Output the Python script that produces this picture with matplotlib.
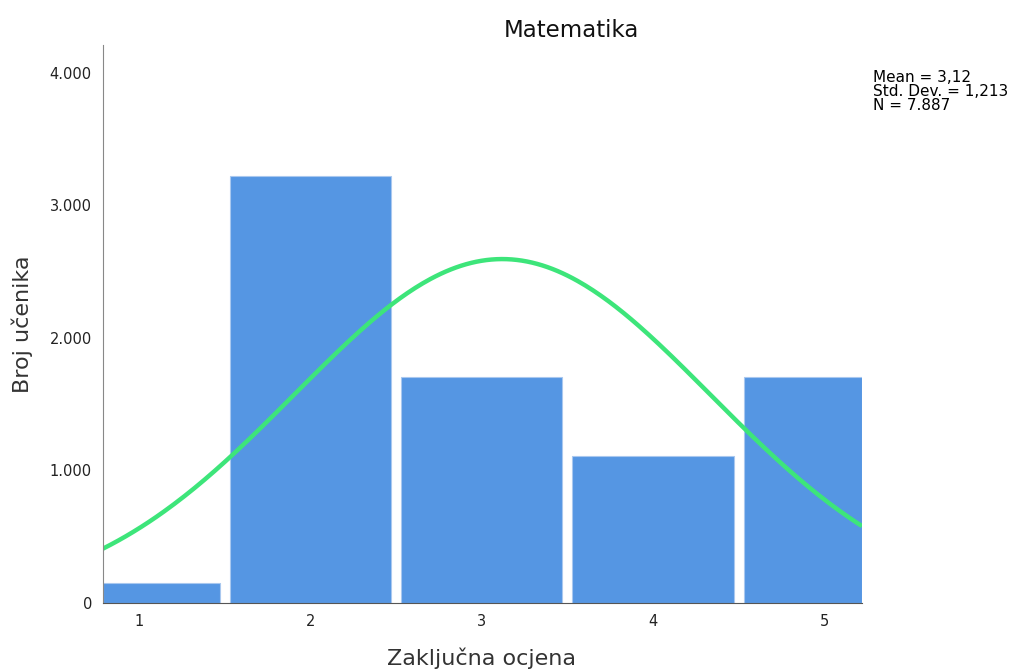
import numpy as np
import matplotlib
matplotlib.use("Agg")
import matplotlib.pyplot as plt

grades = [1, 2, 3, 4, 5]
counts = [150, 3220, 1705, 1110, 1702]
bin_left = [0.79, 1.5, 2.5, 3.5, 4.5]
bin_right = [1.5, 2.5, 3.5, 4.5, 5.22]
yticks = [0, 1000, 2000, 3000, 4000]
ytick_labels = ["0", "1.000", "2.000", "3.000", "4.000"]

mean = 3.12
sd = 1.213
n = 7887

fig = plt.figure(figsize=(10.15, 6.69), dpi=100)
ax = fig.add_axes([0.1015, 0.0987, 0.7478, 0.8343])

gap = 0.06
for l, r, c in zip(bin_left, bin_right, counts):
    lo = l if l == bin_left[0] else l + gap / 2
    hi = r if r == bin_right[-1] else r - gap / 2
    ax.bar(lo, c, width=hi - lo, align="edge", color="#5596e3",
           edgecolor="#a9c8ef", linewidth=0.8)

# normal curve from the reported statistics
xs = np.linspace(bin_left[0], bin_right[-1], 300)
ys = n * 1.0 / (sd * np.sqrt(2 * np.pi)) * np.exp(-0.5 * ((xs - mean) / sd) ** 2)
ax.plot(xs, ys, color="#3de57a", linewidth=3.2, solid_capstyle="butt")

ax.set_xlim(bin_left[0], bin_right[-1])
ax.set_ylim(0, 4210)
ax.set_xticks(grades)
ax.set_xticklabels([str(g) for g in grades])
ax.set_yticks(yticks)
ax.set_yticklabels(ytick_labels)
ax.tick_params(length=0, labelsize=10.5, colors="#222222", pad=8)

for s in ["top", "right"]:
    ax.spines[s].set_visible(False)
ax.spines["left"].set_color("#888888")
ax.spines["bottom"].set_color("#555555")

fig.text(0.474, 0.016, "Zaključna ocjena", fontsize=16, color="#333333",
         ha="center", va="center")
fig.text(0.022, 0.515, "Broj učenika", fontsize=16, color="#333333",
         ha="center", va="center", rotation=90)
fig.text(0.5625, 0.955, "Matematika", fontsize=16.5, color="#111111",
         ha="center", va="center")

fig.text(0.86, 0.895, "Mean = 3,12\nStd. Dev. = 1,213\nN = 7.887",
         fontsize=11, va="top", ha="left", linespacing=0.92)

fig.savefig("out.png", dpi=100, facecolor="white")
